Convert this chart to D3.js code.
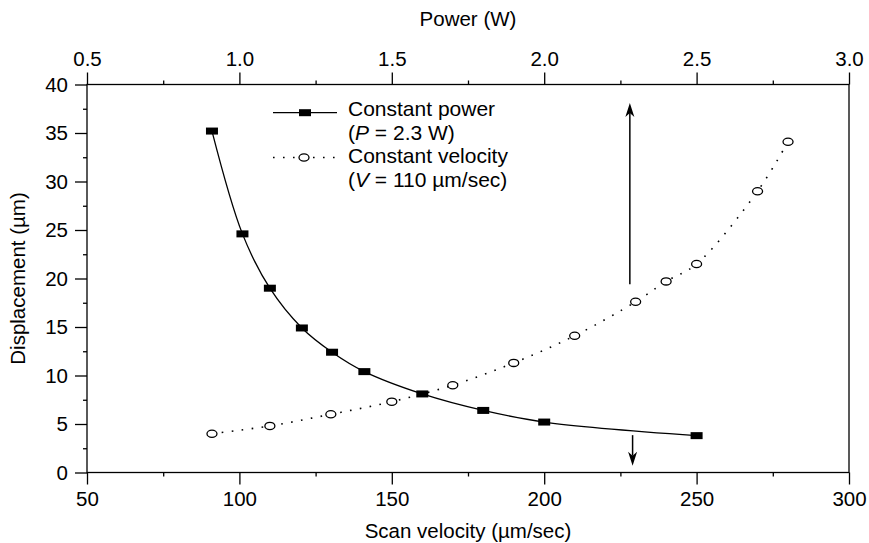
<!DOCTYPE html>
<html><head><meta charset="utf-8">
<script src="https://cdn.jsdelivr.net/npm/d3@7"></script>
<style>
html,body{margin:0;padding:0;background:#fff;}
svg{display:block;}
text{font-family:"Liberation Sans",Arial,sans-serif;fill:#000;}
</style></head>
<body><svg id="chart" width="869" height="543"></svg>
<script>
// Constant power series (x = scan velocity, µm/sec)
const powerSeriesVelocity = [91, 101, 110, 120.5, 130.4, 141, 160, 180, 200, 250];
const powerSeriesDisp     = [35.2, 24.6, 19.0, 14.9, 12.4, 10.4, 8.1, 6.4, 5.2, 3.8];
// Constant velocity series (x = power, W)
const velSeriesPower = [0.91, 1.1, 1.3, 1.5, 1.7, 1.9, 2.1, 2.3, 2.4, 2.5, 2.7, 2.8];
const velSeriesDisp  = [4.0, 4.8, 6.0, 7.3, 9.0, 11.3, 14.1, 17.6, 19.7, 21.5, 29.0, 34.1];
// Tick values
const velocityTicks = [50, 100, 150, 200, 250, 300];
const velocityMinor = [75, 125, 175, 225, 275];
const powerTicks = [0.5, 1.0, 1.5, 2.0, 2.5, 3.0];
const powerMinor = [0.75, 1.25, 1.75, 2.25, 2.75];
const dispTicks = [0, 5, 10, 15, 20, 25, 30, 35, 40];
const dispMinor = [2.5, 7.5, 12.5, 17.5, 22.5, 27.5, 32.5, 37.5];
// Arrows: [velocity, fromDisp, toDisp]
const arrowUp = [228.1, 19.4, 38.1];
const arrowDown = [229, 3.85, 0.7];
// Legend
const legendLabels = ["Constant power", "(P = 2.3 W)", "Constant velocity", "(V = 110 µm/sec)"];
const axisTitles = {bottom: "Scan velocity (µm/sec)", top: "Power (W)", left: "Displacement (µm)"};

const L = 87, R = 849, T = 84.5, B = 472.5;
const svg = d3.select("#chart");
const x = d3.scaleLinear().domain([50, 300]).range([L, R]);
const xp = d3.scaleLinear().domain([0.5, 3.0]).range([L, R]);
const y = d3.scaleLinear().domain([0, 40]).range([B, T]);

const FS = 20.5;
function styleAxis(g){
  g.selectAll("path").remove();
  g.selectAll("line").attr("stroke", "#000").attr("stroke-width", 1.3);
  g.selectAll("text").attr("font-size", FS).attr("font-family", '"Liberation Sans",Arial,sans-serif');
}
// bottom
svg.append("g").attr("transform", `translate(0,${B})`)
  .call(d3.axisBottom(x).tickValues(velocityTicks).tickSize(12).tickPadding(7).tickFormat(d3.format("d"))).call(styleAxis);
svg.append("g").attr("transform", `translate(0,${B})`)
  .call(d3.axisBottom(x).tickValues(velocityMinor).tickSize(4).tickFormat("")).call(styleAxis);
// top
svg.append("g").attr("transform", `translate(0,${T})`)
  .call(d3.axisTop(xp).tickValues(powerTicks).tickSize(12).tickPadding(7).tickFormat(d3.format(".1f"))).call(styleAxis);
svg.append("g").attr("transform", `translate(0,${T})`)
  .call(d3.axisTop(xp).tickValues(powerMinor).tickSize(4).tickFormat("")).call(styleAxis);
// left
svg.append("g").attr("transform", `translate(${L},0)`)
  .call(d3.axisLeft(y).tickValues(dispTicks).tickSize(12).tickPadding(7).tickFormat(d3.format("d"))).call(styleAxis);
svg.append("g").attr("transform", `translate(${L},0)`)
  .call(d3.axisLeft(y).tickValues(dispMinor).tickSize(4).tickFormat("")).call(styleAxis);

// frame
svg.append("rect").attr("x", L).attr("y", T).attr("width", R - L).attr("height", B - T)
  .attr("fill", "none").attr("stroke", "#000").attr("stroke-width", 1.3);

// axis titles
svg.append("text").attr("x", (L + R) / 2).attr("y", 538).attr("text-anchor", "middle").attr("font-size", FS).text(axisTitles.bottom);
svg.append("text").attr("x", (L + R) / 2).attr("y", 26).attr("text-anchor", "middle").attr("font-size", FS).text(axisTitles.top);
svg.append("text").attr("transform", `translate(25,${(T + B) / 2}) rotate(-90)`).attr("text-anchor", "middle").attr("font-size", FS).text(axisTitles.left);

// series
const cp = powerSeriesVelocity.map((v, i) => [v, powerSeriesDisp[i]]);
const cv = velSeriesPower.map((p, i) => [p, velSeriesDisp[i]]);
const lineCP = d3.line().x(d => x(d[0])).y(d => y(d[1])).curve(d3.curveCatmullRom.alpha(0.5));
const lineCV = d3.line().x(d => xp(d[0])).y(d => y(d[1])).curve(d3.curveCatmullRom.alpha(0.5));
svg.append("path").attr("d", lineCP(cp)).attr("fill", "none").attr("stroke", "#000").attr("stroke-width", 1.3);
svg.append("path").attr("d", lineCV(cv)).attr("fill", "none").attr("stroke", "#000").attr("stroke-width", 1.6).attr("stroke-dasharray", "1.6,8.4");

svg.selectAll("rect.sq").data(cp).join("rect").attr("class", "sq")
  .attr("x", d => x(d[0]) - 6).attr("y", d => y(d[1]) - 3.5).attr("width", 12).attr("height", 7).attr("fill", "#000");
svg.selectAll("ellipse.ci").data(cv).join("ellipse").attr("class", "ci")
  .attr("cx", d => xp(d[0])).attr("cy", d => y(d[1])).attr("rx", 5).attr("ry", 3.6)
  .attr("fill", "#fff").attr("stroke", "#000").attr("stroke-width", 1.3);

// arrows
function arrow(a){
  const ax = x(a[0]), y0 = y(a[1]), y1 = y(a[2]);
  const dir = y1 < y0 ? 1 : -1; // 1 = pointing up
  const headLen = 14, hw = 4.5, notch = 4;
  svg.append("line").attr("x1", ax).attr("x2", ax).attr("y1", y0).attr("y2", y1 + dir * (headLen - notch))
    .attr("stroke", "#000").attr("stroke-width", 1.5);
  const p = [[ax, y1], [ax - hw, y1 + dir * headLen], [ax, y1 + dir * (headLen - notch)], [ax + hw, y1 + dir * headLen]];
  svg.append("path").attr("d", "M" + p.map(q => q.join(",")).join("L") + "Z").attr("fill", "#000");
}
arrow(arrowUp);
arrow(arrowDown);

// legend
const LFS = 21;
const lgX0 = 273, lgX1 = 337, lgTx = 348;
const lgY = [109, 132.5, 156, 179.5];
svg.append("line").attr("x1", lgX0).attr("x2", lgX1).attr("y1", 112.7).attr("y2", 112.7).attr("stroke", "#000").attr("stroke-width", 1.3);
svg.append("rect").attr("x", 305 - 6).attr("y", 112.7 - 3.5).attr("width", 12).attr("height", 7).attr("fill", "#000");
svg.append("line").attr("x1", lgX0).attr("x2", lgX1).attr("y1", 157.5).attr("y2", 157.5).attr("stroke", "#000").attr("stroke-width", 1.6).attr("stroke-dasharray", "1.6,8.4");
svg.append("ellipse").attr("cx", 304).attr("cy", 157.5).attr("rx", 5).attr("ry", 3.6).attr("fill", "#fff").attr("stroke", "#000").attr("stroke-width", 1.3);

svg.append("text").attr("x", lgTx).attr("y", lgY[0]).attr("dy", "0.35em").attr("font-size", LFS).text(legendLabels[0]);
function italicLine(yy, label){
  const t = svg.append("text").attr("x", lgTx).attr("y", yy).attr("dy", "0.35em").attr("font-size", LFS);
  t.append("tspan").text(label.slice(0, 1));
  t.append("tspan").attr("font-style", "italic").text(label.slice(1, 2));
  t.append("tspan").text(label.slice(2));
}
italicLine(lgY[1], legendLabels[1]);
svg.append("text").attr("x", lgTx).attr("y", lgY[2]).attr("dy", "0.35em").attr("font-size", LFS).text(legendLabels[2]);
italicLine(lgY[3], legendLabels[3]);
</script></body></html>
